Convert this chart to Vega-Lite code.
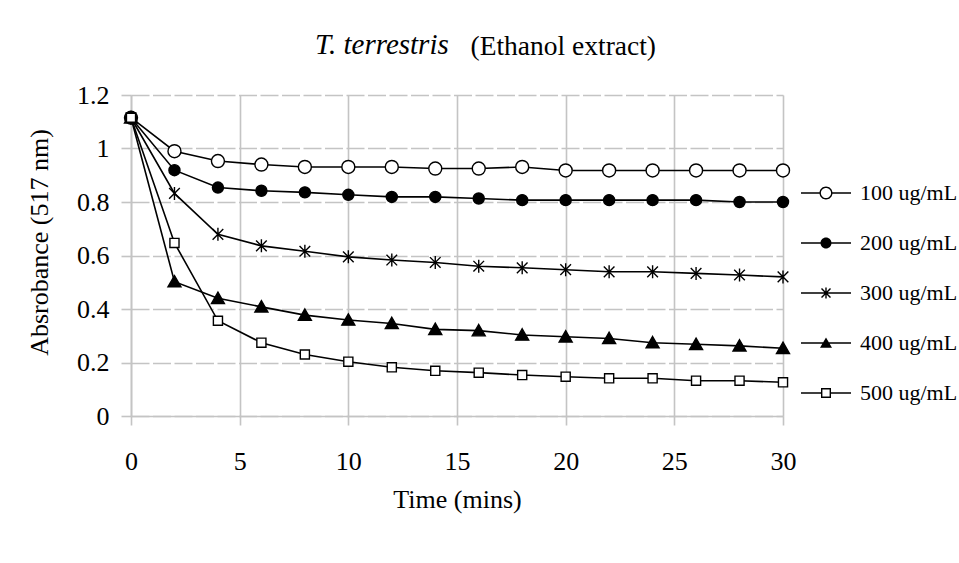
{
  "$schema": "https://vega.github.io/schema/vega-lite/v6.json",
  "width": 652,
  "height": 321,
  "autosize": {"type": "none"},
  "padding": {"left": 131, "top": 95, "right": 176, "bottom": 147},
  "background": "white",
  "config": {
    "view": {"stroke": null},
    "font": "Liberation Serif"
  },
  "title": {
    "text": "T. terrestris",
    "anchor": "start",
    "frame": "group",
    "dx": 184,
    "font": "Liberation Serif",
    "fontSize": 29,
    "fontStyle": "italic",
    "fontWeight": "normal",
    "color": "black",
    "offset": -28
  },
  "data": {
    "values": [
      {"t": 0, "s": "100 ug/mL", "v": 1.115}, {"t": 2, "s": "100 ug/mL", "v": 0.99}, {"t": 4, "s": "100 ug/mL", "v": 0.953}, {"t": 6, "s": "100 ug/mL", "v": 0.94},
      {"t": 8, "s": "100 ug/mL", "v": 0.931}, {"t": 10, "s": "100 ug/mL", "v": 0.931}, {"t": 12, "s": "100 ug/mL", "v": 0.931}, {"t": 14, "s": "100 ug/mL", "v": 0.925},
      {"t": 16, "s": "100 ug/mL", "v": 0.925}, {"t": 18, "s": "100 ug/mL", "v": 0.931}, {"t": 20, "s": "100 ug/mL", "v": 0.918}, {"t": 22, "s": "100 ug/mL", "v": 0.918},
      {"t": 24, "s": "100 ug/mL", "v": 0.918}, {"t": 26, "s": "100 ug/mL", "v": 0.918}, {"t": 28, "s": "100 ug/mL", "v": 0.918}, {"t": 30, "s": "100 ug/mL", "v": 0.918},
      {"t": 0, "s": "200 ug/mL", "v": 1.115}, {"t": 2, "s": "200 ug/mL", "v": 0.919}, {"t": 4, "s": "200 ug/mL", "v": 0.854}, {"t": 6, "s": "200 ug/mL", "v": 0.842},
      {"t": 8, "s": "200 ug/mL", "v": 0.836}, {"t": 10, "s": "200 ug/mL", "v": 0.827}, {"t": 12, "s": "200 ug/mL", "v": 0.819}, {"t": 14, "s": "200 ug/mL", "v": 0.819},
      {"t": 16, "s": "200 ug/mL", "v": 0.813}, {"t": 18, "s": "200 ug/mL", "v": 0.807}, {"t": 20, "s": "200 ug/mL", "v": 0.807}, {"t": 22, "s": "200 ug/mL", "v": 0.807},
      {"t": 24, "s": "200 ug/mL", "v": 0.807}, {"t": 26, "s": "200 ug/mL", "v": 0.807}, {"t": 28, "s": "200 ug/mL", "v": 0.8}, {"t": 30, "s": "200 ug/mL", "v": 0.8},
      {"t": 0, "s": "300 ug/mL", "v": 1.115}, {"t": 2, "s": "300 ug/mL", "v": 0.832}, {"t": 4, "s": "300 ug/mL", "v": 0.679}, {"t": 6, "s": "300 ug/mL", "v": 0.636},
      {"t": 8, "s": "300 ug/mL", "v": 0.616}, {"t": 10, "s": "300 ug/mL", "v": 0.595}, {"t": 12, "s": "300 ug/mL", "v": 0.583}, {"t": 14, "s": "300 ug/mL", "v": 0.574},
      {"t": 16, "s": "300 ug/mL", "v": 0.56}, {"t": 18, "s": "300 ug/mL", "v": 0.554}, {"t": 20, "s": "300 ug/mL", "v": 0.547}, {"t": 22, "s": "300 ug/mL", "v": 0.539},
      {"t": 24, "s": "300 ug/mL", "v": 0.539}, {"t": 26, "s": "300 ug/mL", "v": 0.533}, {"t": 28, "s": "300 ug/mL", "v": 0.527}, {"t": 30, "s": "300 ug/mL", "v": 0.52},
      {"t": 0, "s": "400 ug/mL", "v": 1.115}, {"t": 2, "s": "400 ug/mL", "v": 0.502}, {"t": 4, "s": "400 ug/mL", "v": 0.44}, {"t": 6, "s": "400 ug/mL", "v": 0.408},
      {"t": 8, "s": "400 ug/mL", "v": 0.377}, {"t": 10, "s": "400 ug/mL", "v": 0.359}, {"t": 12, "s": "400 ug/mL", "v": 0.346}, {"t": 14, "s": "400 ug/mL", "v": 0.324},
      {"t": 16, "s": "400 ug/mL", "v": 0.319}, {"t": 18, "s": "400 ug/mL", "v": 0.303}, {"t": 20, "s": "400 ug/mL", "v": 0.296}, {"t": 22, "s": "400 ug/mL", "v": 0.29},
      {"t": 24, "s": "400 ug/mL", "v": 0.274}, {"t": 26, "s": "400 ug/mL", "v": 0.268}, {"t": 28, "s": "400 ug/mL", "v": 0.262}, {"t": 30, "s": "400 ug/mL", "v": 0.253},
      {"t": 0, "s": "500 ug/mL", "v": 1.115}, {"t": 2, "s": "500 ug/mL", "v": 0.647}, {"t": 4, "s": "500 ug/mL", "v": 0.356}, {"t": 6, "s": "500 ug/mL", "v": 0.274},
      {"t": 8, "s": "500 ug/mL", "v": 0.23}, {"t": 10, "s": "500 ug/mL", "v": 0.203}, {"t": 12, "s": "500 ug/mL", "v": 0.182}, {"t": 14, "s": "500 ug/mL", "v": 0.169},
      {"t": 16, "s": "500 ug/mL", "v": 0.162}, {"t": 18, "s": "500 ug/mL", "v": 0.153}, {"t": 20, "s": "500 ug/mL", "v": 0.147}, {"t": 22, "s": "500 ug/mL", "v": 0.141},
      {"t": 24, "s": "500 ug/mL", "v": 0.141}, {"t": 26, "s": "500 ug/mL", "v": 0.132}, {"t": 28, "s": "500 ug/mL", "v": 0.132}, {"t": 30, "s": "500 ug/mL", "v": 0.126}
    ]
  },
  "encoding": {
    "y": {
      "field": "v",
      "type": "quantitative",
      "scale": {"domain": [0, 1.2], "nice": false, "zero": true},
      "axis": {
        "values": [0, 0.2, 0.4, 0.6, 0.8, 1, 1.2],
        "format": "~g",
        "title": "Absrobance (517 nm)",
        "grid": true,
        "gridColor": "#c4c4c4",
        "gridWidth": 1.6,
        "gridDash": [18, 3.5],
        "domainColor": "#c4c4c4",
        "domainWidth": 1.6,
        "tickColor": "#c4c4c4",
        "tickWidth": 1.6,
        "tickSize": 10,
        "labelPadding": 12,
        "labelOverlap": false,
        "labelFont": "Liberation Serif",
        "labelFontSize": 26,
        "labelColor": "black",
        "titleFont": "Liberation Serif",
        "titleFontSize": 26,
        "titleFontWeight": "normal",
        "titleColor": "black",
        "titlePadding": 24,
        "titleY": 147
      }
    }
  },
  "layer": [
    {
      "mark": {"type": "line", "stroke": "black", "strokeWidth": 1.6},
      "encoding": {
        "x": {
          "field": "t",
          "type": "quantitative",
          "scale": {"domain": [0, 30], "nice": false, "zero": true},
          "axis": {
            "values": [0, 5, 10, 15, 20, 25, 30],
            "title": "Time (mins)",
            "grid": true,
            "gridColor": "#c4c4c4",
            "gridWidth": 1.6,
            "domainColor": "#c4c4c4",
            "domainWidth": 1.6,
            "tickColor": "#c4c4c4",
            "tickWidth": 1.6,
            "tickSize": 9,
            "labelPadding": 23,
            "labelFlush": false,
            "labelOverlap": false,
            "labelFont": "Liberation Serif",
            "labelFontSize": 26,
            "labelColor": "black",
            "titleFont": "Liberation Serif",
            "titleFontSize": 26,
            "titleFontWeight": "normal",
            "titleColor": "black",
            "titlePadding": 12
          }
        },
        "detail": {"field": "s", "type": "nominal"}
      }
    },
    {
      "mark": {"type": "point", "filled": true, "stroke": "black", "strokeWidth": 1.4, "opacity": 1, "size": 169},
      "encoding": {
        "x": {"field": "t", "type": "quantitative", "scale": {"domain": [0, 30], "nice": false, "zero": true}, "axis": null},
        "shape": {
          "field": "s",
          "type": "nominal",
          "scale": {
            "domain": ["100 ug/mL", "200 ug/mL", "300 ug/mL", "400 ug/mL", "500 ug/mL"],
            "range": [
              "circle",
              "M0.85,0C0.85,0.4694 0.4694,0.85 0,0.85C-0.4694,0.85 -0.85,0.4694 -0.85,0C-0.85,-0.4694 -0.4694,-0.85 0,-0.85C0.4694,-0.85 0.85,-0.4694 0.85,0Z",
              "M0,-1V1M-0.82,-0.82L0.82,0.82M-0.82,0.82L0.82,-0.82",
              "M0,-0.95L1,0.8L-1,0.8Z",
              "M-0.7,-0.7H0.7V0.7H-0.7Z"
            ]
          },
          "legend": null
        },
        "fill": {
          "field": "s",
          "type": "nominal",
          "scale": {
            "domain": ["100 ug/mL", "200 ug/mL", "300 ug/mL", "400 ug/mL", "500 ug/mL"],
            "range": ["white", "black", "black", "black", "white"]
          },
          "legend": null
        }
      }
    },
    {
      "transform": [{"filter": "datum.t < 0"}],
      "mark": {"type": "point", "filled": true, "fill": "black", "strokeWidth": 0, "opacity": 1, "size": 169},
      "encoding": {
        "x": {
          "field": "t",
          "type": "quantitative",
          "scale": {"domain": [0, 30], "nice": false, "zero": true},
          "axis": {
            "orient": "top",
            "title": "(Ethanol extract)",
            "labels": false,
            "ticks": false,
            "domain": false,
            "grid": false,
            "titleFont": "Liberation Serif",
            "titleFontSize": 27.5,
            "titleFontWeight": "normal",
            "titleColor": "black",
            "titleAlign": "left",
            "titleBaseline": "alphabetic",
            "titleX": 339,
            "titleY": -41
          }
        },
        "shape": {
          "field": "s",
          "type": "nominal",
          "scale": {
            "domain": ["100 ug/mL", "200 ug/mL", "300 ug/mL", "400 ug/mL", "500 ug/mL"],
            "range": [
              "M-1,-0.028H-0.25V0.028H-1ZM0.25,-0.028H1V0.028H0.25ZM0.26,0C0.26,0.1436 0.1436,0.26 0,0.26C-0.1436,0.26 -0.26,0.1436 -0.26,0C-0.26,-0.1436 -0.1436,-0.26 0,-0.26C0.1436,-0.26 0.26,-0.1436 0.26,0ZM0.204,0C0.204,-0.1127 0.1127,-0.204 0,-0.204C-0.1127,-0.204 -0.204,-0.1127 -0.204,0C-0.204,0.1127 -0.1127,0.204 0,0.204C0.1127,0.204 0.204,0.1127 0.204,0Z",
              "M-1,-0.028H1V0.028H-1ZM0.22,0C0.22,0.1215 0.1215,0.22 0,0.22C-0.1215,0.22 -0.22,0.1215 -0.22,0C-0.22,-0.1215 -0.1215,-0.22 0,-0.22C0.1215,-0.22 0.22,-0.1215 0.22,0Z",
              "M-1,-0.028H1V0.028H-1ZM-0.028,-0.22H0.028V0.22H-0.028ZM-0.16,-0.2L0.2,0.16L0.16,0.2L-0.2,-0.16ZM0.16,-0.2L0.2,-0.16L-0.16,0.2L-0.2,0.16Z",
              "M-1,-0.028H1V0.028H-1ZM0,-0.22L0.24,0.19L-0.24,0.19Z",
              "M-1,-0.028H-0.19V0.028H-1ZM0.19,-0.028H1V0.028H0.19ZM-0.2,-0.2H0.2V0.2H-0.2ZM-0.144,-0.144V0.144H0.144V-0.144Z"
            ]
          },
          "legend": {
            "orient": "none",
            "legendX": 670,
            "legendY": 73,
            "title": null,
            "padding": 0,
            "symbolSize": 2500,
            "symbolOpacity": 1,
            "symbolFillColor": "black",
            "symbolStrokeWidth": 0,
            "rowPadding": 14,
            "labelOffset": 9,
            "labelFont": "Liberation Serif",
            "labelFontSize": 22,
            "labelColor": "black",
            "labelLimit": 300
          }
        }
      }
    }
  ],
  "resolve": {"scale": {"shape": "independent"}, "legend": {"shape": "independent"}, "axis": {"x": "independent"}}
}
